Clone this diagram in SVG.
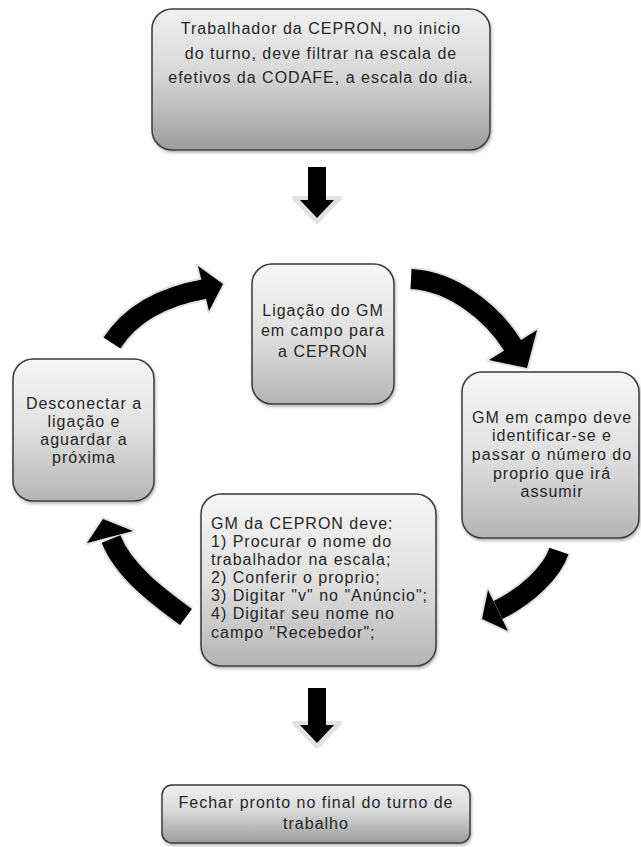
<svg xmlns="http://www.w3.org/2000/svg" width="641" height="847" viewBox="0 0 641 847">
<defs>
<linearGradient id="gTop" x1="0" y1="0" x2="0" y2="1">
<stop offset="0" stop-color="#f0f0f0"/>
<stop offset="0.45" stop-color="#d8d8d8"/>
<stop offset="1" stop-color="#9c9c9c"/>
</linearGradient>
<linearGradient id="gBox" x1="0" y1="0" x2="0" y2="1">
<stop offset="0" stop-color="#f6f6f6"/>
<stop offset="0.5" stop-color="#e0e0e0"/>
<stop offset="1" stop-color="#b4b4b4"/>
</linearGradient>
<filter id="sh" x="-10%" y="-10%" width="125%" height="130%">
<feDropShadow dx="1" dy="2" stdDeviation="1.5" flood-color="#808080" flood-opacity="0.6"/>
</filter>
<style>
.box{fill:url(#gBox);stroke:#3a3a3a;stroke-width:1.5;filter:url(#sh)}
.top{fill:url(#gTop)}
.t{font-family:"Liberation Sans",Arial,sans-serif;font-size:16px;fill:#262626;letter-spacing:1px}
.c{text-anchor:middle}
.body{fill:none;stroke:#000;stroke-width:20}
.bodyg{fill:none;stroke:#e2e2e2;stroke-width:24}
.head{fill:#000}
.headg{fill:#e2e2e2;stroke:#e2e2e2;stroke-width:4;stroke-linejoin:round}
</style>
</defs>
<rect width="641" height="847" fill="#ffffff"/>

<g id="connectors">
<g id="arrow-down-1">
<polygon class="headg" points="294,198 340,198 317,222"/>
<polygon fill="#000" points="308,167 326,167 326,200 334,200 317,218 300,200 308,200"/>
</g>
<g id="arrow-tl">
<path class="bodyg" d="M112,343 C132,312 165,296 205,289"/>
<polygon class="headg" points="198,266 223,284 209,311"/>
<path class="body" d="M112,343 C132,312 165,296 205,289"/>
<polygon class="head" points="198,266 223,284 209,311"/>
</g>
<g id="arrow-tr">
<path class="bodyg" d="M411,279 C452,281 492,312 513,346"/>
<polygon class="headg" points="489,360 537,330 527,368"/>
<path class="body" d="M411,279 C452,281 492,312 513,346"/>
<polygon class="head" points="489,360 537,330 527,368"/>
</g>
<g id="arrow-br">
<path class="bodyg" d="M559,551 C552,572 527,596 498,610"/>
<polygon class="headg" points="488,590 508,631 482,619"/>
<path class="body" d="M559,551 C552,572 527,596 498,610"/>
<polygon class="head" points="488,590 508,631 482,619"/>
</g>
<g id="arrow-bl">
<path class="bodyg" d="M186,617 C160,598 124,572 111,539"/>
<polygon class="headg" points="87,543 133,531 103,519"/>
<path class="body" d="M186,617 C160,598 124,572 111,539"/>
<polygon class="head" points="87,543 133,531 103,519"/>
</g>
<g id="arrow-down-2">
<polygon class="headg" points="294,723 340,723 317,747"/>
<polygon fill="#000" points="308,688 326,688 326,725 334,725 317,743 300,725 308,725"/>
</g>
</g>

<g id="node-inicio">
<rect class="box top" x="152" y="9" width="338" height="141" rx="20"/>
<text class="t c" x="321" y="34">Trabalhador da CEPRON, no inicio</text>
<text class="t c" x="321" y="59">do turno, deve filtrar na escala de</text>
<text class="t c" x="321" y="83">efetivos da CODAFE, a escala do dia.</text>
</g>

<g id="node-ligacao">
<rect class="box" x="252" y="264" width="142" height="140" rx="20"/>
<text class="t c" x="323" y="316">Ligação do GM</text>
<text class="t c" x="323" y="336">em campo para</text>
<text class="t c" x="323" y="357">a CEPRON</text>
</g>

<g id="node-identificar">
<rect class="box" x="462" y="372" width="177" height="166" rx="20"/>
<text class="t c" x="552" y="423">GM em campo deve</text>
<text class="t c" x="552" y="441">identificar-se e</text>
<text class="t c" x="552" y="460">passar o número do</text>
<text class="t c" x="552" y="479">proprio que irá</text>
<text class="t c" x="552" y="497">assumir</text>
</g>

<g id="node-cepron">
<rect class="box" x="201" y="494" width="235" height="172" rx="20"/>
<text class="t" x="211" y="529">GM da CEPRON deve:</text>
<text class="t" x="211" y="547">1) Procurar o nome do</text>
<text class="t" x="211" y="565">trabalhador na escala;</text>
<text class="t" x="211" y="583">2) Conferir o proprio;</text>
<text class="t" x="211" y="601">3) Digitar "v" no "Anúncio";</text>
<text class="t" x="211" y="619">4) Digitar seu nome no</text>
<text class="t" x="211" y="638">campo "Recebedor";</text>
</g>

<g id="node-desconectar">
<rect class="box" x="13" y="359" width="141" height="142" rx="20"/>
<text class="t c" x="84" y="409">Desconectar a</text>
<text class="t c" x="84" y="427">ligação e</text>
<text class="t c" x="84" y="445">aguardar a</text>
<text class="t c" x="84" y="463">próxima</text>
</g>

<g id="node-fechar">
<rect class="box top" x="162" y="785" width="308" height="58" rx="10"/>
<text class="t c" x="316" y="808">Fechar pronto no final do turno de</text>
<text class="t c" x="316" y="829">trabalho</text>
</g>
</svg>
